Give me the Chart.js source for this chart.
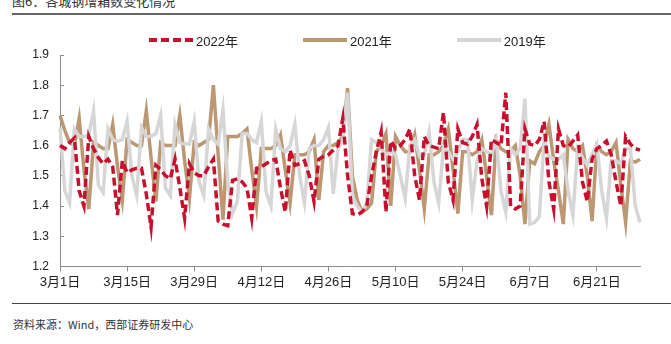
<!DOCTYPE html>
<html>
<head>
<meta charset="utf-8">
<script src="https://cdn.jsdelivr.net/npm/chart.js@4/dist/chart.umd.min.js"></script>
<style>
  html, body { margin: 0; padding: 0; background: #fff; }
  body { width: 671px; height: 344px; position: relative; overflow: hidden;
         font-family: "Liberation Sans", "Noto Sans CJK SC", sans-serif; }
  .title { position: absolute; left: 12px; top: -9px; font-size: 13px; color: #333; }
  .rule-top { position: absolute; left: 12px; right: 0; top: 13px; height: 2px; background: #666; }
  .rule-bottom { position: absolute; left: 12px; right: 0; top: 303px; height: 1px; background: #444; }
  .source { position: absolute; left: 13px; top: 316px; font-size: 11px; color: #333;
            font-family: "Noto Sans CJK SC", sans-serif; }
  #wrap { position: absolute; left: 0; top: 0; width: 671px; height: 300px; }
  #legend { position: absolute; left: 149px; top: 32px; height: 16px; display: flex; align-items: center;
            font-size: 13px; color: #222; }
  #legend .item { display: flex; align-items: center; margin-right: 65px; }
  #legend svg { margin-right: 3px; }
</style>
</head>
<body>
<div class="title">图6：各城钢增箱数变化情况</div>
<div class="rule-top"></div>
<div id="wrap"><canvas id="grafica"></canvas></div>
<div id="legend"></div>
<div class="rule-bottom"></div>
<div class="source">资料来源：Wind，西部证券研发中心</div>

<script>
document.addEventListener("DOMContentLoaded", function () {
  const canvas = document.getElementById("grafica");
  if (!canvas || typeof Chart === "undefined") {
    return;
  }

  // días del 1 de marzo al 30 de junio
  const meses = [3, 4, 5, 6];
  const diasPorMes = [31, 30, 31, 30];
  const ticksEje = ["3月1日", "3月15日", "3月29日", "4月12日", "4月26日", "5月10日", "5月24日", "6月7日", "6月21日"];

  const serie2022 = [
    1.60, 1.59, 1.61, 1.625, 1.45, 1.40, 1.63, 1.59, 1.56, 1.54, 1.555, 1.53, 1.37, 1.55,
    1.51, 1.52, 1.525, 1.525, 1.44, 1.33, 1.535, 1.52, 1.50, 1.49, 1.555, 1.46, 1.36, 1.54,
    1.51, 1.50, 1.50, 1.53, 1.555, 1.35, 1.34, 1.335, 1.485, 1.49, 1.48, 1.46, 1.36, 1.525,
    1.53, 1.54, 1.55, 1.555, 1.46, 1.38, 1.585, 1.535, 1.54, 1.55, 1.50, 1.415, 1.555, 1.565,
    1.57, 1.585, 1.60, 1.69, 1.50, 1.375, 1.37, 1.38, 1.40, 1.50, 1.58, 1.645, 1.38, 1.615,
    1.59, 1.60, 1.62, 1.655, 1.50, 1.42, 1.63, 1.60, 1.595, 1.59, 1.71, 1.48, 1.42, 1.655,
    1.61, 1.605, 1.63, 1.67, 1.49, 1.40, 1.62, 1.61, 1.60, 1.775, 1.40, 1.39, 1.40, 1.655,
    1.605, 1.60, 1.62, 1.68, 1.48, 1.39, 1.655, 1.60, 1.595, 1.615, 1.635, 1.48, 1.415, 1.555,
    1.59, 1.60, 1.615, 1.57, 1.48, 1.40, 1.63, 1.605, 1.59, 1.585,
  ];
  const serie2021 = [
    1.70, 1.65, 1.61, 1.60, 1.69, 1.52, 1.39, 1.61, 1.60, 1.59, 1.59, 1.67, 1.53, 1.42,
    1.62, 1.61, 1.60, 1.60, 1.715, 1.56, 1.415, 1.61, 1.60, 1.60, 1.60, 1.70, 1.55, 1.425,
    1.61, 1.60, 1.61, 1.62, 1.80, 1.57, 1.355, 1.63, 1.63, 1.63, 1.64, 1.655, 1.52, 1.40,
    1.59, 1.59, 1.59, 1.60, 1.635, 1.52, 1.41, 1.57, 1.57, 1.57, 1.58, 1.62, 1.42, 1.58,
    1.60, 1.60, 1.61, 1.63, 1.79, 1.50, 1.42, 1.38, 1.39, 1.41, 1.58, 1.60, 1.64, 1.40,
    1.63, 1.60, 1.58, 1.58, 1.635, 1.52, 1.39, 1.57, 1.57, 1.58, 1.60, 1.655, 1.52, 1.375,
    1.58, 1.58, 1.57, 1.58, 1.62, 1.50, 1.37, 1.62, 1.59, 1.58, 1.58, 1.60, 1.50, 1.34,
    1.55, 1.54, 1.58, 1.60, 1.67, 1.55, 1.45, 1.34, 1.62, 1.59, 1.58, 1.60, 1.50, 1.35,
    1.60, 1.58, 1.57, 1.58, 1.61, 1.47, 1.345, 1.55, 1.545, 1.555,
  ];
  const serie2019 = [
    1.66, 1.45, 1.41, 1.655, 1.63, 1.63, 1.635, 1.715, 1.47, 1.445, 1.655, 1.62, 1.615, 1.62,
    1.68, 1.50, 1.435, 1.66, 1.63, 1.63, 1.64, 1.70, 1.46, 1.435, 1.67, 1.61, 1.605, 1.605,
    1.68, 1.48, 1.435, 1.655, 1.62, 1.605, 1.72, 1.48, 1.375, 1.415, 1.64, 1.64, 1.62, 1.61,
    1.68, 1.445, 1.40, 1.655, 1.59, 1.58, 1.60, 1.67, 1.50, 1.41, 1.59, 1.60, 1.60, 1.62,
    1.66, 1.44, 1.59, 1.62, 1.775, 1.435, 1.40, 1.38, 1.41, 1.62, 1.61, 1.59, 1.57, 1.58,
    1.57, 1.50, 1.425, 1.60, 1.62, 1.565, 1.57, 1.645, 1.48, 1.41, 1.595, 1.58, 1.555, 1.58,
    1.62, 1.62, 1.42, 1.55, 1.59, 1.58, 1.57, 1.62, 1.45, 1.38, 1.59, 1.57, 1.59, 1.755,
    1.34, 1.345, 1.365, 1.62, 1.565, 1.555, 1.555, 1.57, 1.45, 1.37, 1.59, 1.56, 1.535, 1.57,
    1.605, 1.45, 1.36, 1.55, 1.55, 1.54, 1.59, 1.59, 1.40, 1.345,
  ];

  const fechas = [];
  meses.forEach(function (mes, i) {
    for (let d = 1; d <= diasPorMes[i]; d++) {
      fechas.push(mes + "月" + d + "日");
    }
  });

  Chart.defaults.font.family = "'Liberation Sans', 'Noto Sans CJK SC', sans-serif";
  Chart.defaults.color = "#222";

  const chart = new Chart(canvas, {
    type: "line",
    data: {
      labels: fechas,
      datasets: [
        {
          label: "2022年",
          data: serie2022,
          borderColor: "#c8102e",
          borderWidth: 3.5,
          borderDash: [8, 4],
          order: 0,
        },
        {
          label: "2021年",
          data: serie2021,
          borderColor: "#bb9772",
          borderWidth: 3.5,
          order: 2,
        },
        {
          label: "2019年",
          data: serie2019,
          borderColor: "#d6d6d6",
          borderWidth: 3.5,
          order: 1,
        },
      ],
    },
    options: {
      responsive: true,
      maintainAspectRatio: false,
      animation: false,
      elements: {
        point: { radius: 0, hoverRadius: 0 },
        line: { tension: 0, borderJoinStyle: "miter" },
      },
      layout: { padding: { top: 55, right: 31, bottom: 7, left: 0 } },
      plugins: {
        legend: { display: false },
        tooltip: { enabled: false },
      },
      scales: {
        x: {
          type: "category",
          offset: false,
          border: { color: "#8c8c8c", width: 1 },
          grid: { drawOnChartArea: false, tickLength: 5, color: "#8c8c8c" },
          ticks: {
            autoSkip: false,
            maxRotation: 0,
            padding: 3,
            font: { size: 13 },
            color: "#222",
            callback: function (value) {
              const etiqueta = this.getLabelForValue(value);
              return ticksEje.includes(etiqueta) ? etiqueta : null;
            },
          },
        },
        y: {
          min: 1.2,
          max: 1.9,
          border: { color: "#8c8c8c", width: 1 },
          grid: { drawOnChartArea: false, tickLength: -4, color: "#8c8c8c" },
          ticks: {
            stepSize: 0.1,
            padding: 15,
            font: { size: 12 },
            color: "#222",
            callback: function (value) {
              return value.toFixed(1);
            },
          },
          afterFit: function (scale) {
            scale.width = 60;
          },
        },
      },
    },
  });

  // leyenda en HTML con el mismo estilo de cada serie
  const leyenda = document.getElementById("legend");
  chart.data.datasets.forEach(function (ds) {
    const item = document.createElement("span");
    item.className = "item";
    const dash = (ds.borderDash || []).join(" ");
    item.innerHTML =
      '<svg width="44" height="6"><line x1="0" y1="3" x2="44" y2="3" stroke="' + ds.borderColor +
      '" stroke-width="4" stroke-dasharray="' + dash + '"/></svg><span>' + ds.label + "</span>";
    leyenda.appendChild(item);
  });
});
</script>
</body>
</html>
